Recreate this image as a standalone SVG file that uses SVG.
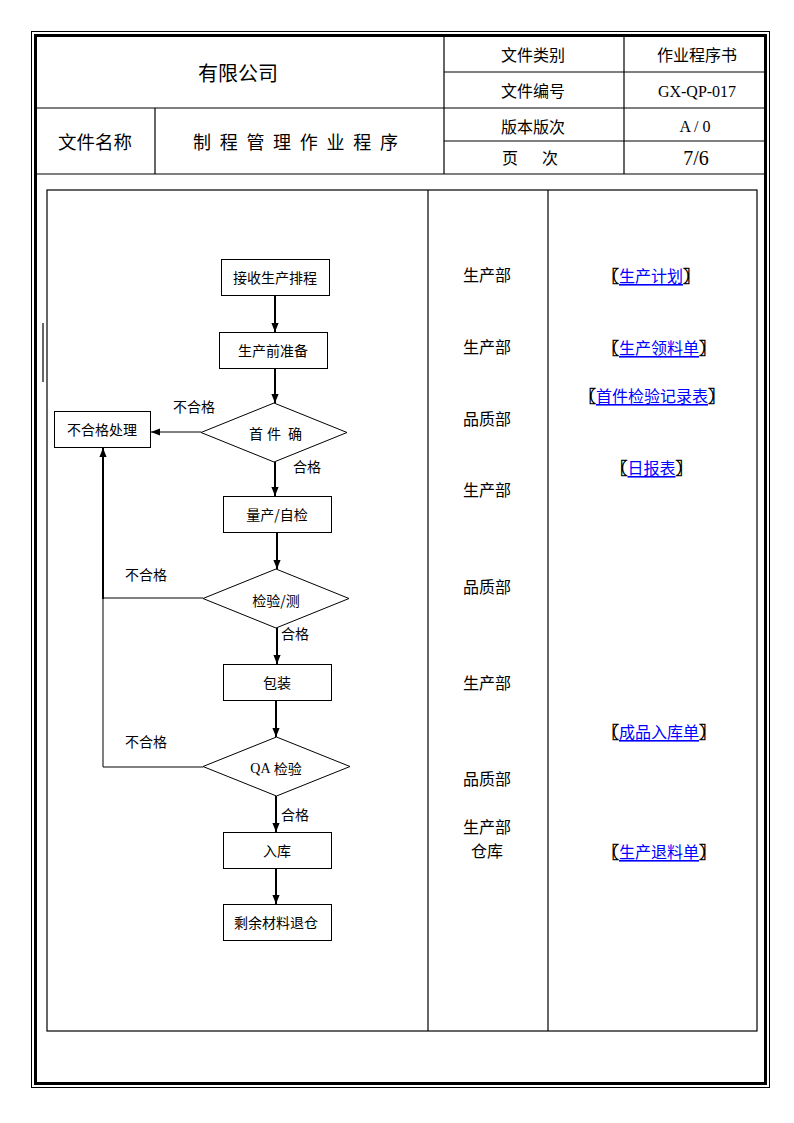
<svg xmlns="http://www.w3.org/2000/svg" width="794" height="1123" viewBox="0 0 794 1123">
<style>
.t{font-family:'Noto Sans CJK SC',sans-serif;fill:#000;dominant-baseline:central;text-anchor:middle}
.s{font-family:'Liberation Serif','Noto Sans CJK SC',serif;fill:#000;dominant-baseline:central;text-anchor:middle}
.f14{font-size:14px}.f16{font-size:16px}
.ln{stroke:#000;fill:none}
.box{fill:#fff;stroke:#000;stroke-width:1}
.br{stroke:#000;stroke-width:0.7}
.lk{fill:#0000ff;stroke:none;text-decoration:underline}
.c2{stroke:#000;stroke-width:2;fill:none}
.c1{stroke:#000;stroke-width:1;fill:none}
</style>
<defs>
<marker id="ah" viewBox="0 0 10 8" refX="10" refY="4" markerWidth="9" markerHeight="8" markerUnits="userSpaceOnUse" orient="auto">
<path d="M0,0 L10,4 L0,8 z" fill="#000"/>
</marker>
</defs>
<rect x="0" y="0" width="794" height="1123" fill="#fff"/>
<g id="frame">
<rect x="31.5" y="31.5" width="738" height="1056" class="ln" stroke-width="1"/>
<rect x="35.5" y="35.5" width="730" height="1048" class="ln" stroke-width="3"/>
<g class="ln" stroke-width="1.2">
<line x1="37" y1="108" x2="765" y2="108"/>
<line x1="37" y1="174" x2="765" y2="174"/>
<line x1="444" y1="72" x2="765" y2="72"/>
<line x1="444" y1="141" x2="765" y2="141"/>
<line x1="155" y1="108" x2="155" y2="174"/>
<line x1="444" y1="37" x2="444" y2="174"/>
<line x1="624" y1="37" x2="624" y2="174"/>
<rect x="47" y="190" width="710" height="841"/>
<line x1="428" y1="190" x2="428" y2="1031"/>
<line x1="548" y1="190" x2="548" y2="1031"/>
<line x1="43" y1="323" x2="43" y2="382"/>
</g>
</g>
<g id="header">
<text class="t" x="238" y="72" font-size="20">有限公司</text>
<text class="t" x="95" y="141" font-size="18.5">文件名称</text>
<text class="t" x="193" y="141" font-size="18" letter-spacing="8.7" style="text-anchor:start">制程管理作业程序</text>
<text class="t f16" x="533" y="54">文件类别</text>
<text class="t f16" x="697" y="54">作业程序书</text>
<text class="t f16" x="533" y="90">文件编号</text>
<text class="s f16" x="697" y="91">GX-QP-017</text>
<text class="t f16" x="533" y="126">版本版次</text>
<text class="s f16" x="695" y="126">A / 0</text>
<text class="t f16" x="510" y="157">页</text>
<text class="t f16" x="550" y="157">次</text>
<text class="s" x="696" y="158" font-size="20">7/6</text>
</g>
<g id="connectors">
<line class="c2" x1="275" y1="295" x2="275" y2="332" marker-end="url(#ah)"/>
<line class="c2" x1="275" y1="368" x2="275" y2="403" marker-end="url(#ah)"/>
<line class="c1" x1="201" y1="432" x2="151" y2="432" marker-end="url(#ah)"/>
<line class="c2" x1="275" y1="462" x2="275" y2="496" marker-end="url(#ah)"/>
<line class="c2" x1="277" y1="532" x2="277" y2="569" marker-end="url(#ah)"/>
<line class="c1" x1="203" y1="598" x2="103" y2="598"/>
<line class="c2" x1="103" y1="599" x2="103" y2="448" marker-end="url(#ah)"/>
<line class="c2" x1="277" y1="628" x2="277" y2="664" marker-end="url(#ah)"/>
<line class="c2" x1="276" y1="700" x2="276" y2="737" marker-end="url(#ah)"/>
<polyline class="c1" points="203,767 103,767 103,598"/>
<line class="c2" x1="276" y1="796" x2="276" y2="832" marker-end="url(#ah)"/>
<line class="c2" x1="276" y1="868" x2="276" y2="904" marker-end="url(#ah)"/>
<text class="t f14" x="194" y="406">不合格</text>
<text class="t f14" x="307" y="466">合格</text>
<text class="t f14" x="146" y="574">不合格</text>
<text class="t f14" x="295" y="633">合格</text>
<text class="t f14" x="146" y="741">不合格</text>
<text class="t f14" x="295" y="814">合格</text>
</g>
<g id="n1"><rect class="box" x="221.5" y="259.5" width="108" height="36"/><text class="t f14" x="275" y="277">接收生产排程</text></g>
<g id="n2"><rect class="box" x="219.5" y="332.5" width="108" height="36"/><text class="t f14" x="273" y="350">生产前准备</text></g>
<g id="n3"><polygon class="box" points="274,403 347,432.5 274,462 201,432.5"/><text class="t f14" x="256" y="433">首</text><text class="t f14" x="274" y="433">件</text><text class="t f14" x="295" y="433">确</text></g>
<g id="n4"><rect class="box" x="54.5" y="411.5" width="96" height="36"/><text class="t f14" x="102" y="429">不合格处理</text></g>
<g id="n5"><rect class="box" x="223.5" y="496.5" width="108" height="36"/><text class="t f14" x="277" y="514">量产/自检</text></g>
<g id="n6"><polygon class="box" points="276,569 349,598.5 276,628 203,598.5"/><text class="t f14" x="276" y="600">检验/测</text></g>
<g id="n7"><rect class="box" x="223.5" y="664.5" width="108" height="36"/><text class="t f14" x="277" y="682">包装</text></g>
<g id="n8"><polygon class="box" points="276.5,737 350,766.5 276.5,796 203,766.5"/><text class="t f14" x="276" y="768"><tspan font-family="'Liberation Serif',serif">QA</tspan> 检验</text></g>
<g id="n9"><rect class="box" x="223.5" y="832.5" width="108" height="36"/><text class="t f14" x="277" y="850">入库</text></g>
<g id="n10"><rect class="box" x="223.5" y="904.5" width="108" height="36"/><text class="t f14" x="276" y="922">剩余材料退仓</text></g>
<g id="depts">
<text class="t f16" x="487" y="274">生产部</text>
<text class="t f16" x="487" y="346">生产部</text>
<text class="t f16" x="487" y="418">品质部</text>
<text class="t f16" x="487" y="489">生产部</text>
<text class="t f16" x="487" y="586">品质部</text>
<text class="t f16" x="487" y="682">生产部</text>
<text class="t f16" x="487" y="778">品质部</text>
<text class="t f16" x="487" y="826">生产部</text>
<text class="t f16" x="487" y="850">仓库</text>
</g>
<g id="forms">
<text class="t f16 br" x="651" y="275">〖<tspan class="lk">生产计划</tspan>〗</text>
<text class="t f16 br" x="659" y="347">〖<tspan class="lk">生产领料单</tspan>〗</text>
<text class="t f16 br" x="652" y="395">〖<tspan class="lk">首件检验记录表</tspan>〗</text>
<text class="t f16 br" x="651.5" y="467">〖<tspan class="lk">日报表</tspan>〗</text>
<text class="t f16 br" x="659" y="731">〖<tspan class="lk">成品入库单</tspan>〗</text>
<text class="t f16 br" x="659" y="851">〖<tspan class="lk">生产退料单</tspan>〗</text>
</g>
</svg>
